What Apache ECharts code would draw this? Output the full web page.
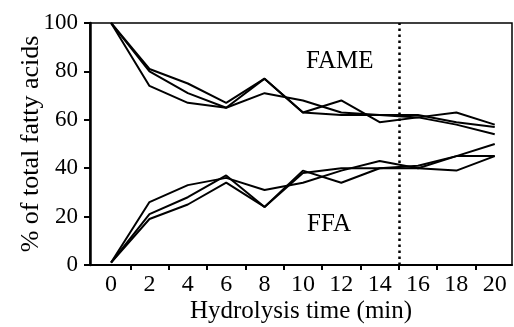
<!DOCTYPE html>
<html>
<head>
<meta charset="utf-8">
<script src="https://cdn.jsdelivr.net/npm/echarts@6/dist/echarts.min.js"></script>
<style>html,body{margin:0;padding:0;background:#fff;}#c{width:514px;height:327px;}</style>
</head>
<body>
<div id="c"></div>
<script>
const times = [0, 2, 4, 6, 8, 10, 12, 14, 16, 18, 20];
const xTickLabels = [0, 2, 4, 6, 8, 10, 12, 14, 16, 18, 20];
const xTickMarks = [1, 3, 5, 7, 9, 11, 13, 15, 17, 19];
const yTicks = [0, 20, 40, 60, 80, 100];
const fameA = [100, 81, 75, 67, 77, 63, 68, 59, 61, 63, 58];
const fameB = [100, 80, 71, 65, 77, 63, 62, 62, 62, 59, 57];
const fameC = [100, 74, 67, 65, 71, 68, 63, 62, 61, 58, 54];
const ffaA = [1, 26, 33, 36, 31, 34, 39, 43, 40, 45, 45];
const ffaB = [1, 21, 28, 37, 24, 39, 34, 40, 41, 45, 50];
const ffaC = [1, 19, 25, 34, 24, 38, 40, 40, 40, 39, 45];
const cutoffTime = 15;
const labelFame = 'FAME';
const labelFfa = 'FFA';

const FONT = '"Liberation Serif", "DejaVu Serif", serif';
const chart = echarts.init(document.getElementById('c'), null, {renderer: 'canvas'});

function mk(arr) { return times.map((t, i) => [t, arr[i]]); }
function lineSeries(arr, withMark) {
  const s = {
    type: 'line', data: mk(arr), symbol: 'none', silent: true,
    lineStyle: {color: '#000', width: 2}, z: 3
  };
  if (withMark) {
    s.markLine = {
      silent: true, symbol: 'none', label: {show: false},
      lineStyle: {color: '#000', width: 2.5, type: [2.5, 3.5]},
      data: [{xAxis: cutoffTime}]
    };
  }
  return s;
}

chart.setOption({
  animation: false,
  backgroundColor: '#fff',
  grid: {left: 90, right: 2, top: 23, bottom: 62, show: true, borderColor: '#000', borderWidth: 1.5,
    containLabel: false, outerBoundsMode: 'none'},
  xAxis: {
    type: 'value', min: -1.1, max: 20.9,
    name: 'Hydrolysis time (min)', nameLocation: 'middle', nameGap: 34, nameMoveOverlap: false,
    nameTextStyle: {fontFamily: FONT, fontSize: 25, color: '#000'},
    splitLine: {show: false},
    axisLine: {show: true, onZero: false, lineStyle: {color: '#000', width: 2}},
    axisTick: {show: true, customValues: xTickMarks, length: 5, lineStyle: {color: '#000', width: 2}},
    axisLabel: {customValues: xTickLabels, fontFamily: FONT, fontSize: 24, color: '#000', margin: 8}
  },
  yAxis: {
    type: 'value', min: 0, max: 100, interval: 20,
    name: '% of total fatty acids', nameLocation: 'middle', nameGap: 46, nameMoveOverlap: false,
    nameTextStyle: {fontFamily: FONT, fontSize: 26, color: '#000'},
    splitLine: {show: false},
    axisLine: {show: true, onZero: false, lineStyle: {color: '#000', width: 2.5}},
    axisTick: {show: true, length: 6, lineStyle: {color: '#000', width: 2}},
    axisLabel: {fontFamily: FONT, fontSize: 23, color: '#000', margin: 12,
      formatter: v => yTicks.includes(v) ? String(v) : ''}
  },
  graphic: [
    {type: 'text', left: 306, top: 49, style: {text: labelFame, font: '25px ' + FONT, fill: '#000'}},
    {type: 'text', left: 307, top: 212, style: {text: labelFfa, font: '25px ' + FONT, fill: '#000'}}
  ],
  series: [
    lineSeries(fameA, true), lineSeries(fameB), lineSeries(fameC),
    lineSeries(ffaA), lineSeries(ffaB), lineSeries(ffaC)
  ]
});
</script>
</body>
</html>
